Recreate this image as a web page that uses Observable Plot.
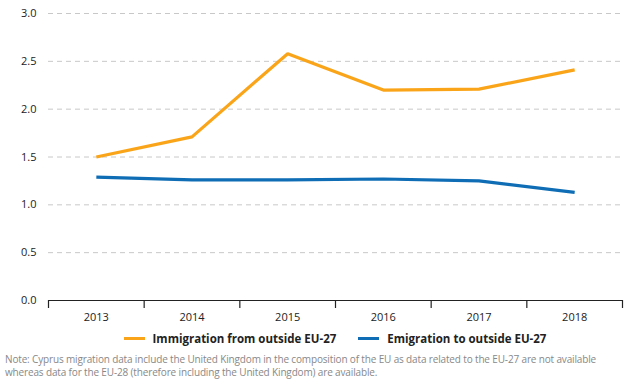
<!DOCTYPE html>
<html>
<head>
<meta charset="utf-8">
<script src="https://cdn.jsdelivr.net/npm/d3@7"></script>
<script src="https://cdn.jsdelivr.net/npm/@observablehq/plot@0.6"></script>
<style>
  body { margin: 0; background: #fff; font-family: "Open Sans", sans-serif; }
  #wrap { width: 627px; }
  .legend { display: flex; justify-content: center; gap: 22px; font-weight: bold; font-size: 11.5px; color: #222; margin-top: 5px; margin-left: 43px; }
  .legend span.sw { display: inline-block; width: 21px; height: 3px; vertical-align: middle; margin-right: 8px; position: relative; top: -1px; }
  .note { font-size: 10px; color: #888; line-height: 13px; margin: 7px 0 0 5px; letter-spacing: -0.15px; }
</style>
</head>
<body>
<div id="wrap"></div>
<script>
const years = [2013, 2014, 2015, 2016, 2017, 2018];
const immigration = [1.50, 1.71, 2.58, 2.20, 2.21, 2.41];
const emigration = [1.29, 1.26, 1.26, 1.27, 1.25, 1.13];
const seriesNames = ["Immigration from outside EU-27", "Emigration to outside EU-27"];
const seriesColors = ["#faa519", "#0e6db5"];
const yTicks = [0, 0.5, 1.0, 1.5, 2.0, 2.5, 3.0];

const data = [];
years.forEach((y, i) => {
  data.push({year: y, value: immigration[i], series: seriesNames[0]});
  data.push({year: y, value: emigration[i], series: seriesNames[1]});
});
const boundaries = years.map(y => y - 0.5).concat([years[years.length - 1] + 0.5]);

const chart = Plot.plot({
  width: 627,
  height: 326,
  marginLeft: 48,
  marginRight: 5,
  marginTop: 13,
  marginBottom: 26,
  style: {fontFamily: "'Open Sans', sans-serif", fontSize: "11px", color: "#222"},
  x: {domain: [boundaries[0], boundaries[boundaries.length - 1]], axis: null},
  y: {domain: [0, 3], axis: null},
  color: {domain: seriesNames, range: seriesColors},
  marks: [
    Plot.gridY(yTicks.filter(t => t > 0), {stroke: "#c8c8c8", strokeOpacity: 1, strokeDasharray: "5,4", strokeWidth: 1}),
    Plot.axisY(yTicks, {tickSize: 0, tickPadding: 12, tickFormat: d3.format(".1f"), fontSize: 11, label: null}),
    Plot.ruleY([0], {stroke: "#222", strokeWidth: 1.2}),
    Plot.axisX(boundaries, {tickSize: 8, tickFormat: () => "", stroke: "#222", strokeWidth: 1.2, label: null}),
    Plot.axisX(years, {tickSize: 0, tickPadding: 13, tickFormat: d3.format("d"), fontSize: 11, label: null}),
    Plot.line(data, {x: "year", y: "value", z: "series", stroke: "series", strokeWidth: 3.2, strokeLinejoin: "miter", strokeLinecap: "butt"})
  ]
});

const wrap = document.getElementById("wrap");
wrap.appendChild(chart);

const legend = document.createElement("div");
legend.className = "legend";
seriesNames.forEach((n, i) => {
  const item = document.createElement("div");
  const sw = document.createElement("span");
  sw.className = "sw";
  sw.style.background = seriesColors[i];
  item.appendChild(sw);
  item.appendChild(document.createTextNode(n));
  legend.appendChild(item);
});
wrap.appendChild(legend);

const note = document.createElement("div");
note.className = "note";
note.textContent = "Note: Cyprus migration data include the United Kingdom in the composition of the EU as data related to the EU-27 are not available whereas data for the EU-28 (therefore including the United Kingdom) are available.";
wrap.appendChild(note);
</script>
</body>
</html>
